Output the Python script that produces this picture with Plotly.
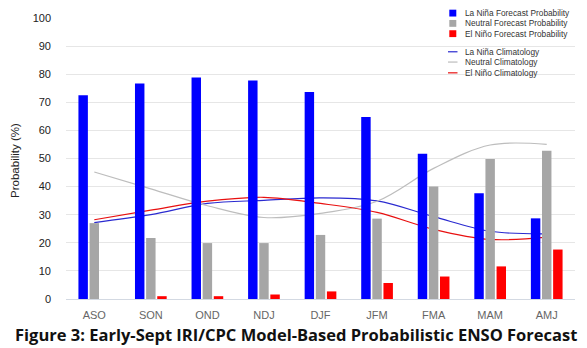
import plotly.graph_objects as go

seasons = ["ASO", "SON", "OND", "NDJ", "DJF", "JFM", "FMA", "MAM", "AMJ"]
lanina_fcst = [72.5, 76.7, 78.8, 77.8, 73.7, 64.8, 51.7, 37.6, 28.7]
neutral_fcst = [27.0, 21.7, 19.9, 19.9, 22.8, 28.6, 40.0, 49.8, 52.8]
elnino_fcst = [0.0, 1.0, 1.0, 1.6, 2.7, 5.7, 8.0, 11.6, 17.6]
lanina_clim = [27.2, 30.0, 34.0, 35.1, 36.0, 34.9, 29.3, 24.1, 23.2]
neutral_clim = [45.2, 39.2, 33.2, 29.0, 30.5, 34.8, 46.5, 54.8, 55.0]
elnino_clim = [28.2, 31.6, 34.8, 36.2, 34.0, 30.8, 24.8, 21.2, 22.0]
yticks = [0, 10, 20, 30, 40, 50, 60, 70, 80, 90, 100]
legend_bar_labels = ["La Niña Forecast Probability", "Neutral Forecast Probability", "El Niño Forecast Probability"]
legend_line_labels = ["La Niña Climatology", "Neutral Climatology", "El Niño Climatology"]

W, H = 587, 348
L, R, T, B = 66, 12, 12, 49
pw, ph = W - L - R, H - T - B

def px(x):
    return (x - L) / pw

def py(y):
    return (H - B - y) / ph

BLUE, GRAY, RED = "#0000ff", "#a6a6a6", "#ff0000"
LBLUE, LGRAY, LRED = "#2a2ad0", "#bdbdbd", "#e81010"

fig = go.Figure()

for vals, col in [(lanina_clim, LBLUE), (neutral_clim, LGRAY), (elnino_clim, LRED)]:
    fig.add_trace(go.Scatter(x=seasons, y=vals, mode="lines", line=dict(color=col, width=1.2, shape="spline"),
                             xaxis="x", yaxis="y", showlegend=False, hoverinfo="skip"))

for vals, col in [(lanina_fcst, BLUE), (neutral_fcst, GRAY), (elnino_fcst, RED)]:
    fig.add_trace(go.Bar(x=seasons, y=vals, marker=dict(color=col, line=dict(width=0)),
                         xaxis="x2", yaxis="y2", showlegend=False))

fig.add_shape(type="line", xref="paper", yref="y", x0=0, x1=1, y0=50, y1=50,
              line=dict(color="black", width=1.2), layer="below")

# manual legend
bar_rows = [7, 17.5, 28]
line_rows = [46.5, 57, 68]
for lab, col, yy in zip(legend_bar_labels, [BLUE, GRAY, RED], bar_rows):
    fig.add_shape(type="rect", xref="paper", yref="paper", x0=px(449.3), x1=px(456.3),
                  y0=py(yy + 3.5), y1=py(yy - 3.5), fillcolor=col, line=dict(width=0))
    fig.add_annotation(text=lab, xref="paper", yref="paper", x=px(463), y=py(yy), xanchor="left",
                       yanchor="middle", showarrow=False, font=dict(family="Liberation Sans", size=8.3, color="#333"))
for lab, col, yy in zip(legend_line_labels, [LBLUE, LGRAY, LRED], line_rows):
    fig.add_shape(type="line", xref="paper", yref="paper", x0=px(448), x1=px(457.5),
                  y0=py(yy), y1=py(yy), line=dict(color=col, width=1.2))
    fig.add_annotation(text=lab, xref="paper", yref="paper", x=px(463), y=py(yy), xanchor="left",
                       yanchor="middle", showarrow=False, font=dict(family="Liberation Sans", size=8.3, color="#333"))

fig.add_annotation(text="Probability (%)", xref="paper", yref="paper", x=px(15), y=py(158), textangle=-90,
                   showarrow=False, xanchor="center", yanchor="middle",
                   font=dict(family="Liberation Sans", size=11.5, color="#222"))
fig.add_annotation(text="<b>Figure 3: Early-Sept IRI/CPC Model-Based Probabilistic ENSO Forecast</b>",
                   xref="paper", yref="paper", x=px(296), y=py(335), showarrow=False,
                   xanchor="center", yanchor="middle",
                   font=dict(family="Open Sans", size=16.5, color="#111"))

rng = [-0.5, len(seasons) - 0.5]
fig.update_layout(
    width=W, height=H, margin=dict(l=L, r=R, t=T, b=B),
    paper_bgcolor="white", plot_bgcolor="white",
    barmode="group", bargap=0.41, bargroupgap=0.15,
    showlegend=False,
    xaxis=dict(type="category", categoryarray=seasons, range=rng, showgrid=False, showline=True,
               linecolor="#d3d9e2", linewidth=1, ticks="", tickfont=dict(family="Liberation Sans", size=11, color="#666"),
               ticklabelstandoff=6, zeroline=False),
    yaxis=dict(range=[0, 100], tickvals=yticks, showgrid=True, gridcolor="#e6e6e6", gridwidth=1,
               zeroline=False, showline=False, ticks="", ticklabelstandoff=14,
               tickfont=dict(family="Liberation Sans", size=11, color="#222")),
    xaxis2=dict(type="category", categoryarray=seasons, range=rng, overlaying="x", visible=False),
    yaxis2=dict(range=[0, 100], overlaying="y", visible=False),
)

fig.write_html("out.html")
